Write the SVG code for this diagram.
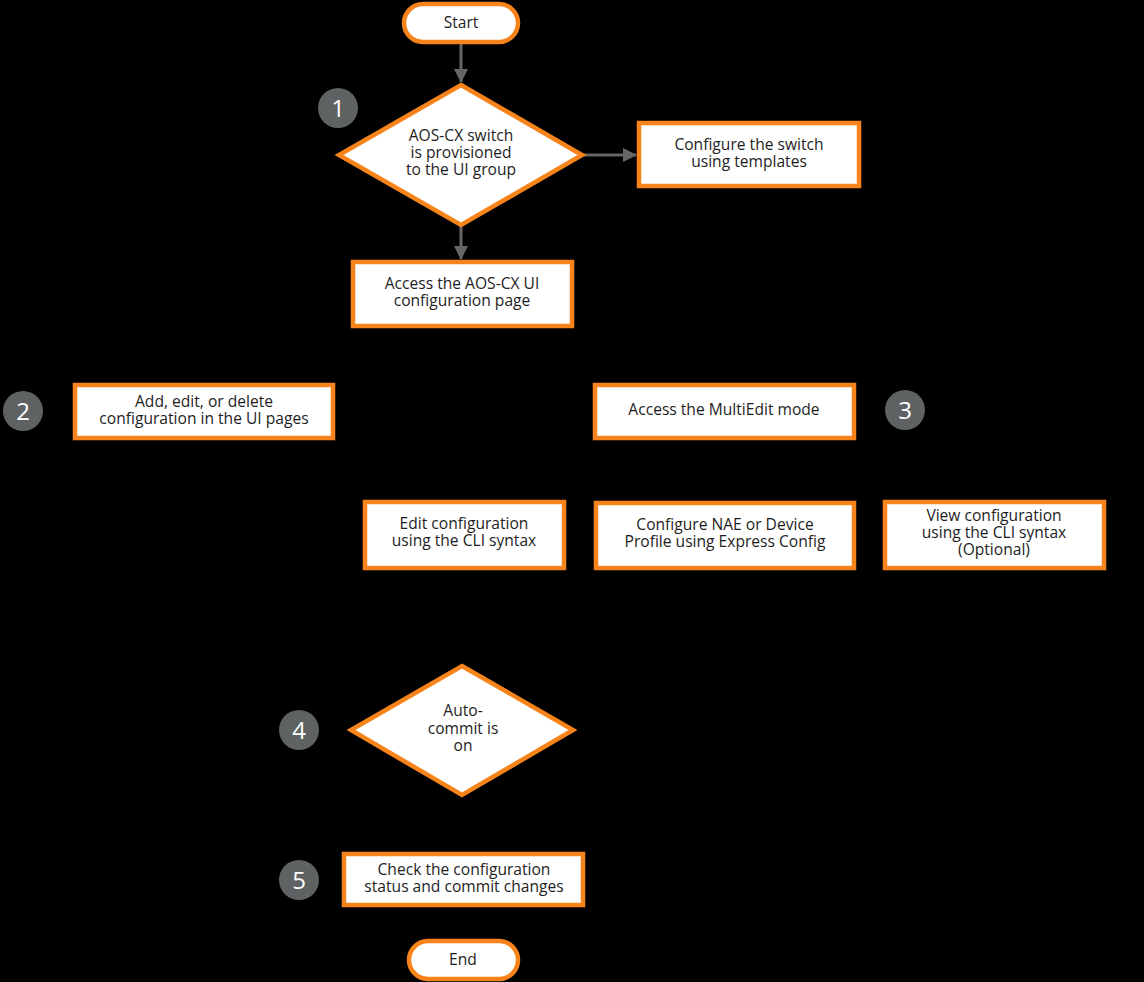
<svg xmlns="http://www.w3.org/2000/svg" width="1144" height="982" viewBox="0 0 1144 982">
  <style>
    .shape { fill: #ffffff; stroke: #f7841a; stroke-width: 4.5; }
    .label { font-family: "Open Sans", "Noto Sans", "Liberation Sans", sans-serif; font-size: 15.6px; fill: #1e1e1e; text-anchor: middle; }
    .step circle { fill: #5e6262; }
    .step text { font-family: "Open Sans", "Noto Sans", "Liberation Sans", sans-serif; font-size: 24px; fill: #ffffff; text-anchor: middle; }
    .link { stroke: #666666; stroke-width: 3; fill: none; }
  </style>
  <defs>
    <marker id="arrowL" markerWidth="14" markerHeight="14" refX="13" refY="7" orient="auto" markerUnits="userSpaceOnUse" viewBox="0 0 14 14">
      <path d="M0,0 L14,7 L0,14 Z" fill="#666666"/>
    </marker>
  </defs>

  <rect width="1144" height="982" fill="#000000"/>

  <g id="connectors">
    <line class="link" x1="461" y1="43" x2="461" y2="82" marker-end="url(#arrowL)"/>
    <line class="link" x1="584" y1="155" x2="636" y2="155" marker-end="url(#arrowL)"/>
    <line class="link" x1="461" y1="226" x2="461" y2="259" marker-end="url(#arrowL)"/>
  </g>

  <g id="start">
    <rect class="shape" x="404" y="4" width="114" height="38" rx="19"/>
    <text class="label" x="461" y="28">Start</text>
  </g>

  <g id="decision-provisioned">
    <polygon class="shape" points="461,85 582,155 461,225 339,155"/>
    <text class="label" x="461" y="141">AOS-CX switch</text>
    <text class="label" x="461" y="158">is provisioned</text>
    <text class="label" x="461" y="175">to the UI group</text>
  </g>

  <g id="templates">
    <rect class="shape" x="639" y="123" width="220" height="63"/>
    <text class="label" x="749" y="150">Configure the switch</text>
    <text class="label" x="749" y="167">using templates</text>
  </g>

  <g id="access-ui">
    <rect class="shape" x="353" y="262" width="219" height="64"/>
    <text class="label" x="462" y="289">Access the AOS-CX UI</text>
    <text class="label" x="462" y="306">configuration page</text>
  </g>

  <g id="ui-pages">
    <rect class="shape" x="75" y="385" width="258" height="53"/>
    <text class="label" x="204" y="407">Add, edit, or delete</text>
    <text class="label" x="204" y="424">configuration in the UI pages</text>
  </g>

  <g id="multiedit">
    <rect class="shape" x="595" y="385" width="259" height="53"/>
    <text class="label" x="724" y="415">Access the MultiEdit mode</text>
  </g>

  <g id="edit-cli">
    <rect class="shape" x="365" y="502" width="199" height="66"/>
    <text class="label" x="464" y="529">Edit configuration</text>
    <text class="label" x="464" y="546">using the CLI syntax</text>
  </g>

  <g id="express-config">
    <rect class="shape" x="596" y="503" width="258" height="65"/>
    <text class="label" x="725" y="530">Configure NAE or Device</text>
    <text class="label" x="725" y="547">Profile using Express Config</text>
  </g>

  <g id="view-cli">
    <rect class="shape" x="885" y="502" width="219" height="66"/>
    <text class="label" x="994" y="521">View configuration</text>
    <text class="label" x="994" y="538">using the CLI syntax</text>
    <text class="label" x="994" y="555">(Optional)</text>
  </g>

  <g id="decision-autocommit">
    <polygon class="shape" points="462,666 573,730 462,795 351,730"/>
    <text class="label" x="463" y="716">Auto-</text>
    <text class="label" x="463" y="734">commit is</text>
    <text class="label" x="463" y="751">on</text>
  </g>

  <g id="commit">
    <rect class="shape" x="344" y="854" width="239" height="51"/>
    <text class="label" x="464" y="875">Check the configuration</text>
    <text class="label" x="464" y="892">status and commit changes</text>
  </g>

  <g id="end">
    <rect class="shape" x="409" y="941" width="109" height="38" rx="19"/>
    <text class="label" x="463" y="965">End</text>
  </g>

  <g id="step-1" class="step">
    <circle cx="338" cy="108" r="20"/>
    <text x="338" y="117">1</text>
  </g>
  <g id="step-2" class="step">
    <circle cx="23" cy="411" r="20"/>
    <text x="23" y="420">2</text>
  </g>
  <g id="step-3" class="step">
    <circle cx="905" cy="410" r="20"/>
    <text x="905" y="419">3</text>
  </g>
  <g id="step-4" class="step">
    <circle cx="299" cy="730" r="20"/>
    <text x="299" y="739">4</text>
  </g>
  <g id="step-5" class="step">
    <circle cx="299" cy="880" r="20"/>
    <text x="299" y="889">5</text>
  </g>
</svg>
